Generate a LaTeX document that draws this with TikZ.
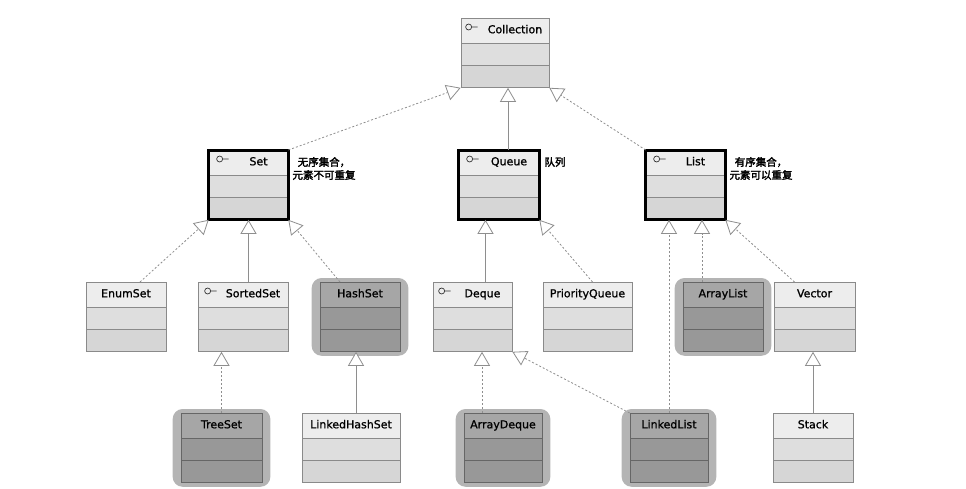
\documentclass[tikz,border=0pt]{standalone}
\usepackage{fontspec}
\setmainfont{DejaVu Sans}[FakeBold=1]
\newfontfamily\cjk{Noto Sans CJK SC}[FakeBold=2.5]
\usepackage{xcolor}
\usepackage{tikz}
\usetikzlibrary{shapes.multipart, arrows.meta, backgrounds}
\definecolor{boxline}{HTML}{8A8A8A}
\definecolor{darkline}{HTML}{666666}
\definecolor{lighthead}{HTML}{EDEDED}
\definecolor{lightbody}{HTML}{DEDEDE}
\definecolor{lightfoot}{HTML}{D6D6D6}
\definecolor{darkhead}{HTML}{A6A6A6}
\definecolor{darkbody}{HTML}{989898}
\definecolor{halogray}{HTML}{B4B4B4}
\definecolor{linegray}{HTML}{8E8E8E}

\begin{document}
\begin{tikzpicture}[x=1pt, y=-1pt,
  cls/.style={rectangle split, rectangle split parts=3,
    rectangle split ignore empty parts=false,
    rectangle split empty part height=10.5pt, rectangle split empty part depth=0pt,
    rectangle split part fill={lighthead,lightbody,lightfoot},
    draw=boxline, line width=0.7pt, inner ysep=5.5pt, inner xsep=3pt,
    anchor=north, font=\fontsize{11}{13}\selectfont, execute at begin node=\strut},
  dark/.style={cls, draw=darkline, rectangle split part fill={darkhead,darkbody,darkbody}},
  iface/.style={execute at begin node=\hspace*{20pt}},
  halo/.style={fill=halogray, rounded corners=10pt},
  heavy/.style={draw=black, line width=3pt},
  icon/.style={draw=black!80, line width=0.7pt},
  note/.style={align=center, font=\cjk\fontsize{10.5}{13}\selectfont},
  extends/.style={draw=linegray, line width=0.8pt, -{Triangle[open, fill=white, length=14pt, width=16pt]}},
  realizes/.style={extends, dash pattern=on 2pt off 2pt}]

\useasboundingbox (0,0) rectangle (966,488);

\node[cls, iface, minimum width=88] (Collection) at (505,18) {Collection};

\node[cls, iface, minimum width=79] (Set) at (248.5,150) {Set};
\node[cls, iface, minimum width=80] (Queue) at (499,150) {Queue};
\node[cls, iface, minimum width=79] (List) at (685.5,150) {List};

\node[cls, minimum width=80] (EnumSet) at (126,282) {EnumSet};
\node[cls, iface, minimum width=90] (SortedSet) at (243,282) {SortedSet};
\node[dark, minimum width=80] (HashSet) at (360,282) {HashSet};
\node[cls, iface, minimum width=79] (Deque) at (472.5,282) {Deque};
\node[cls, minimum width=89] (PriorityQueue) at (587.5,282) {PriorityQueue};
\node[dark, minimum width=80] (ArrayList) at (723,282) {ArrayList};
\node[cls, minimum width=81] (Vector) at (814.5,282) {Vector};

\node[dark, minimum width=81] (TreeSet) at (221.5,413) {TreeSet};
\node[cls, minimum width=98] (LinkedHashSet) at (351,413) {LinkedHashSet};
\node[dark, minimum width=78] (ArrayDeque) at (503,413) {ArrayDeque};
\node[dark, minimum width=78] (LinkedList) at (669,413) {LinkedList};
\node[cls, minimum width=80] (Stack) at (813,413) {Stack};

\begin{scope}[on background layer]
\foreach \n in {HashSet,ArrayList,TreeSet,ArrayDeque,LinkedList}
  \fill[halo] ([shift={(-8,-4)}]\n.north west) rectangle ([shift={(8,4)}]\n.south east);
\end{scope}

\foreach \n in {Set,Queue,List}
  \draw[heavy] (\n.north west) rectangle (\n.south east);

\foreach \n/\dx in {Collection/8,Set/11,Queue/11,List/11,SortedSet/10,Deque/9}
  \draw[icon] ([shift={(\dx,9)}]\n.north west) circle (3) ++(3,0) -- ++(6,0);

\node[note] (SetNote) at (324,168.5) {无序集合，\\元素不可重复};
\node[note] (QueueNote) at (555,162) {队列};
\node[note] (ListNote) at (761,168.5) {有序集合，\\元素可以重复};

\draw[realizes] (Set.north east) -- (Collection.south west);
\draw[extends] ([xshift=3]Collection.south |- Queue.north) -- ([xshift=3]Collection.south);
\draw[realizes] (List.north west) -- (Collection.south east);

\draw[realizes] ([xshift=14]EnumSet.north) -- (Set.south west);
\draw[extends] (SortedSet.north -| Set.south) -- (Set.south);
\draw[realizes] ([xshift=-20]HashSet.north) -- (Set.south east);

\draw[extends] ([xshift=13]Deque.north) -- ([xshift=13]Deque.north |- Queue.south);
\draw[realizes] ([xshift=5]PriorityQueue.north) -- (Queue.south east);

\draw[realizes] ([xshift=-21]ArrayList.north) -- ([xshift=-21]ArrayList.north |- List.south);
\draw[realizes] (LinkedList.north) -- (LinkedList.north |- List.south);
\draw[realizes] ([xshift=-20]Vector.north) -- (List.south east);

\draw[realizes] (TreeSet.north) -- (TreeSet.north |- SortedSet.south);
\draw[extends] ([xshift=5]LinkedHashSet.north) -- ([xshift=5]LinkedHashSet.north |- HashSet.south);
\draw[realizes] ([xshift=-21]ArrayDeque.north) -- ([xshift=-21]ArrayDeque.north |- Deque.south);
\draw[realizes] (LinkedList.north west) -- (Deque.south east);
\draw[extends] (Stack.north) -- (Stack.north |- Vector.south);
\end{tikzpicture}
\end{document}
